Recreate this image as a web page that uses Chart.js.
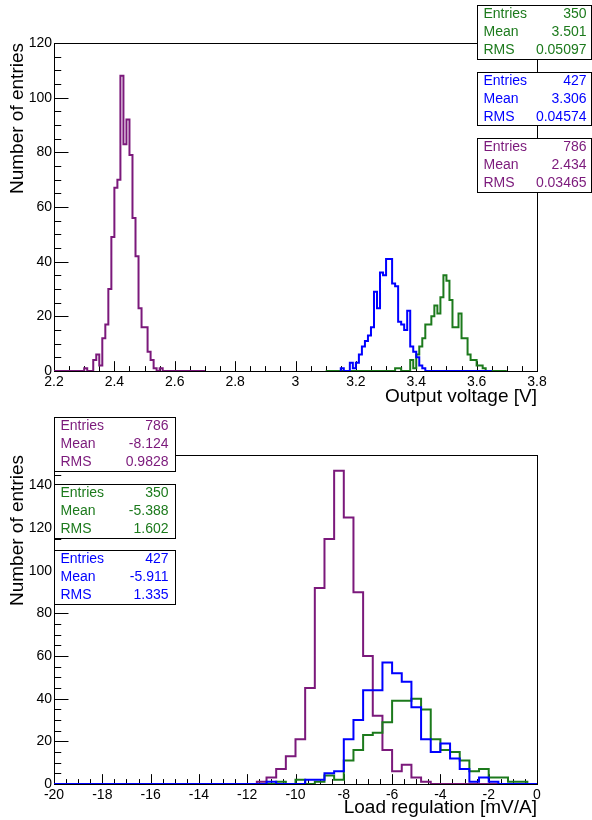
<!DOCTYPE html>
<html>
<head>
<meta charset="utf-8">
<script src="https://cdn.jsdelivr.net/npm/chart.js@4.4.1/dist/chart.umd.min.js"></script>
<style>
html,body{margin:0;padding:0;background:#fff;}
#wrap{position:relative;width:592px;height:820px;background:#fff;}
canvas{position:absolute;left:0;}
#c1{top:0;}
#c2{top:410px;}
</style>
</head>
<body>
<div id="wrap">
<canvas id="c1" width="592" height="410"></canvas>
<canvas id="c2" width="592" height="410"></canvas>
</div>
<script>
// ===================== DATA =====================
// Top panel: Output voltage [V], bins of 0.01 V
const vBinWidth = 0.01;
const vPurpleStart = 2.20;
const vPurple = [0,0,0,0,0,0,0,0,0,0,
                 1,0,0,4,6,2,12,17,30,49,
                 67,70,108,83,92,79,56,42,23,16,
                 16,7,4,1,0,1,0,0,0,0,
                 0,0,0,0,0,0,0,0,0,0];
const vGreenStart = 3.10;
const vGreen = [0,0,0,0,0,0,0,0,0,0,
                0,0,0,0,0,0,0,0,0,0,
                0,0,0,1,1,0,0,0,4,1,
                6,9,12,17,17,20,24,21,27,35,
                33,26,16,16,21,12,12,6,4,4,
                2,2,1,0,0,0,0,0,0,0];
const vBlueStart = 3.15;
const vBlue = [1,0,0,3,1,3,6,9,11,13,
               16,29,23,36,35,41,41,32,31,18,
               17,15,22,9,7,5,2,1,0,0,
               0,0,0,0,0,0,0,0,0,0,
               0,0,0,0,0,0,0,0,0,0];

// Bottom panel: Load regulation [mV/A], bins of 0.4 mV/A
const lBinWidth = 0.4;
const lStart = -20;
const lPurple = [0,0,0,0,0,0,0,0,0,0,
                 0,0,0,0,0,0,0,0,0,0,
                 0,1,3,7,13,21,45,92,115,147,
                 125,90,60,32,16,6,9,3,1,0,
                 0,0,0,0,0,0,0,0,0,0];
const lGreen = [0,0,0,0,0,0,0,0,0,0,
                0,0,0,0,0,0,0,0,0,0,
                0,0,0,1,0,2,0,1,4,2,
                11,16,23,24,29,39,39,40,35,21,
                16,15,11,6,7,3,3,1,1,0];
const lBlue = [0,0,0,0,0,0,0,0,0,0,
               0,0,0,0,0,0,0,0,0,0,
               0,0,1,0,0,0,2,2,5,6,
               21,30,44,44,57,52,48,36,21,15,
               19,12,7,1,3,1,0,0,0,0];

// Tick labels
const xTicksTop = [2.2, 2.4, 2.6, 2.8, 3, 3.2, 3.4, 3.6, 3.8];
const yTicksTop = [0, 20, 40, 60, 80, 100, 120];
const xTicksBot = [-20, -18, -16, -14, -12, -10, -8, -6, -4, -2, 0];
const yTicksBot = [0, 20, 40, 60, 80, 100, 120, 140];

// Statistics boxes
const statNames = ['Entries', 'Mean', 'RMS'];
const statsTopGreen  = ['350', '3.501', '0.05097'];
const statsTopBlue   = ['427', '3.306', '0.04574'];
const statsTopPurple = ['786', '2.434', '0.03465'];
const statsBotPurple = ['786', '-8.124', '0.9828'];
const statsBotGreen  = ['350', '-5.388', '1.602'];
const statsBotBlue   = ['427', '-5.911', '1.335'];

// ===================== STYLE =====================
const COL = {purple: '#7b197b', green: '#1c7a1c', blue: '#0000ff'};
const FONT = "'Liberation Sans', Arial, Helvetica, sans-serif";
Chart.defaults.font.family = FONT;
Chart.defaults.color = '#000';

function histPoints(start, width, counts) {
  const pts = [{x: start, y: 0}];
  counts.forEach((c, i) => pts.push({x: start + i * width, y: c}));
  pts.push({x: start + counts.length * width, y: 0});
  return pts;
}

// ROOT-like frame with inward ticks
const framePlugin = {
  id: 'rootFrame',
  beforeDatasetsDraw(chart, args, opts) {
    const {ctx, chartArea: a} = chart;
    const xs = chart.scales.x, ys = chart.scales.y;
    ctx.save();
    ctx.strokeStyle = '#000';
    ctx.lineWidth = 1;
    const L = Math.round(a.left), R = Math.round(a.right), T = Math.round(a.top), B = Math.round(a.bottom);
    ctx.strokeRect(L + 0.5, T + 0.5, R - L, B - T);
    const xMaj = 0.03 * (B - T), yMaj = 0.03 * (R - L);
    ctx.beginPath();
    const nx = Math.round((xs.max - xs.min) / opts.xMinor);
    for (let i = 0; i <= nx; i++) {
      const v = xs.min + i * opts.xMinor;
      const px = Math.round(xs.getPixelForValue(v)) + 0.5;
      const len = (i % opts.sub === 0) ? xMaj : xMaj / 2;
      ctx.moveTo(px, B);
      ctx.lineTo(px, B - len);
    }
    const ny = Math.floor((ys.max - ys.min) / opts.yMinor + 1e-9);
    for (let i = 0; i <= ny; i++) {
      const v = ys.min + i * opts.yMinor;
      const py = Math.round(ys.getPixelForValue(v)) + 0.5;
      const len = (i % opts.sub === 0) ? yMaj : yMaj / 2;
      ctx.moveTo(L, py);
      ctx.lineTo(L + len, py);
    }
    ctx.stroke();
    ctx.restore();
  }
};

// ROOT-like statistics boxes
const statsPlugin = {
  id: 'rootStats',
  afterDraw(chart, args, opts) {
    const ctx = chart.ctx;
    ctx.save();
    opts.boxes.forEach(b => {
      ctx.fillStyle = '#fff';
      ctx.fillRect(b.x, b.y, b.w, b.h);
      ctx.strokeStyle = '#000';
      ctx.lineWidth = 1;
      ctx.strokeRect(b.x + 0.5, b.y + 0.5, b.w, b.h);
      ctx.font = '14px ' + FONT;
      ctx.fillStyle = b.color;
      ctx.textBaseline = 'middle';
      const rowH = b.h / statNames.length;
      statNames.forEach((n, i) => {
        const cy = b.y + rowH * (i + 0.5) + 0.5;
        ctx.textAlign = 'left';
        ctx.fillText(n, b.x + 6.5, cy);
        ctx.textAlign = 'right';
        ctx.fillText(b.values[i], b.x + b.w - opts.rightInset, cy);
      });
    });
    ctx.restore();
  }
};

function makeChart(id, cfg) {
  return new Chart(document.getElementById(id), {
    type: 'line',
    data: {
      datasets: cfg.series.map(s => ({
        data: histPoints(s.start, cfg.binWidth, s.counts),
        borderColor: s.color,
        borderWidth: 2,
        pointRadius: 0,
        fill: false,
        stepped: true,
        tension: 0,
        order: s.order,
        borderJoinStyle: 'miter',
        borderCapStyle: 'butt'
      }))
    },
    options: {
      responsive: false,
      animation: false,
      devicePixelRatio: 1,
      events: [],
      layout: {padding: {left: 0, right: cfg.padRight, top: cfg.padTop, bottom: 0}},
      scales: {
        x: {
          type: 'linear', min: cfg.xMin, max: cfg.xMax,
          afterBuildTicks: s => { s.ticks = cfg.xTicks.map(v => ({value: v})); },
          afterFit: s => { s.height = cfg.xAxisH; },
          grid: {display: false, drawTicks: false},
          border: {display: false},
          ticks: {autoSkip: false, maxRotation: 0, minRotation: 0, padding: 4,
                  font: {size: 14, lineHeight: 1}, color: '#000', callback: v => String(v)},
          title: {display: true, text: cfg.xTitle, align: 'end', color: '#000',
                  font: {size: 19, lineHeight: 1}, padding: {top: 0, bottom: cfg.xTitlePad}}
        },
        y: {
          type: 'linear', min: 0, max: cfg.yMax,
          afterBuildTicks: s => { s.ticks = cfg.yTicks.map(v => ({value: v})); },
          afterFit: s => { s.width = 54; },
          grid: {display: false, drawTicks: false},
          border: {display: false},
          ticks: {autoSkip: false, padding: 2, font: {size: 14, lineHeight: 1}, color: '#000',
                  callback: v => String(v)},
          title: {display: true, text: 'Number of entries', align: 'end', color: '#000',
                  font: {size: 19, lineHeight: 1}, padding: {top: 8, bottom: 0}}
        }
      },
      plugins: {
        legend: {display: false},
        tooltip: {enabled: false},
        rootFrame: {xMinor: cfg.xMinor, yMinor: 5, sub: 4},
        rootStats: {boxes: cfg.boxes, rightInset: cfg.rightInset}
      }
    },
    plugins: [framePlugin, statsPlugin]
  });
}

makeChart('c1', {
  binWidth: vBinWidth,
  series: [
    {start: vPurpleStart, counts: vPurple, color: COL.purple, order: 3},
    {start: vGreenStart, counts: vGreen, color: COL.green, order: 2},
    {start: vBlueStart, counts: vBlue, color: COL.blue, order: 1}
  ],
  xMin: 2.2, xMax: 3.8, yMax: 120, xMinor: 0.05,
  xTicks: xTicksTop, yTicks: yTicksTop,
  xTitle: 'Output voltage [V]', xTitlePad: 3.5,
  padTop: 43, padRight: 55, xAxisH: 39,
  rightInset: 4.5,
  boxes: [
    {x: 477, y: 5, w: 114, h: 54, color: COL.green, values: statsTopGreen},
    {x: 477, y: 72, w: 114, h: 53, color: COL.blue, values: statsTopBlue},
    {x: 477, y: 138, w: 114, h: 54, color: COL.purple, values: statsTopPurple}
  ]
});

makeChart('c2', {
  binWidth: lBinWidth,
  series: [
    {start: lStart, counts: lPurple, color: COL.purple, order: 3},
    {start: lStart, counts: lGreen, color: COL.green, order: 2},
    {start: lStart, counts: lBlue, color: COL.blue, order: 1}
  ],
  xMin: -20, xMax: 0, yMax: 147 * 1.05, xMinor: 0.5,
  xTicks: xTicksBot, yTicks: yTicksBot,
  xTitle: 'Load regulation [mV/A]', xTitlePad: 2.5,
  padTop: 45, padRight: 55, xAxisH: 36,
  rightInset: 6.5,
  boxes: [
    {x: 54, y: 7, w: 121, h: 54, color: COL.purple, values: statsBotPurple},
    {x: 54, y: 74, w: 121, h: 54, color: COL.green, values: statsBotGreen},
    {x: 54, y: 140, w: 121, h: 54, color: COL.blue, values: statsBotBlue}
  ]
});
</script>
</body>
</html>
